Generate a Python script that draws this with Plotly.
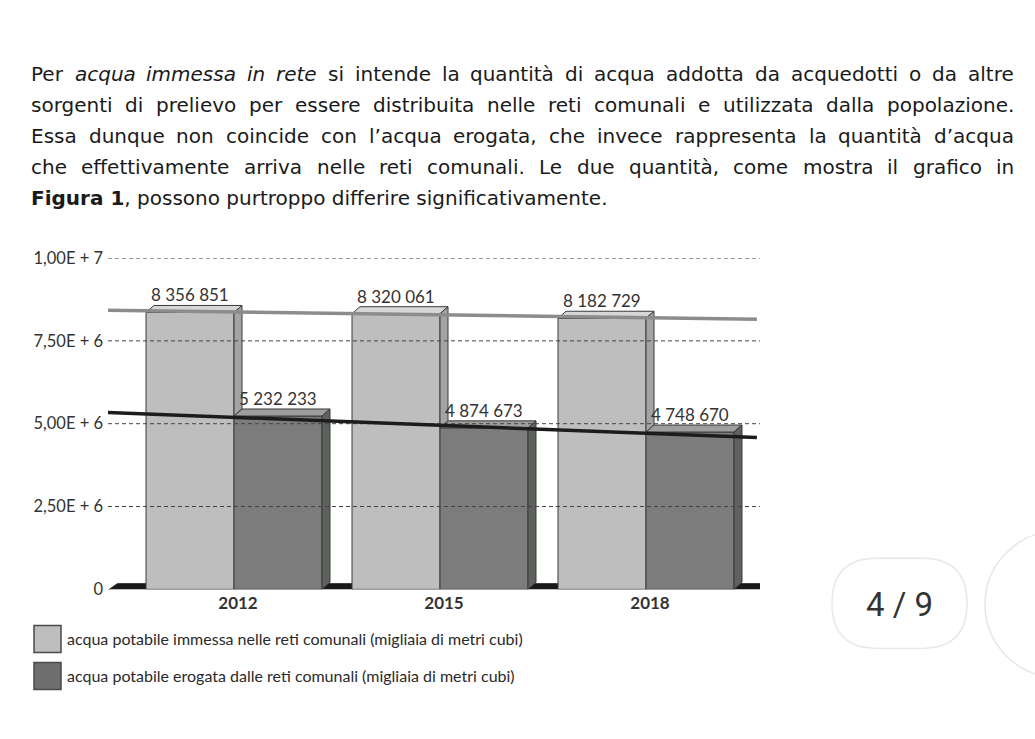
import re
import numpy as np
import plotly.graph_objects as go

# dati
anni = ["2012", "2015", "2018"]
immessa = [8356851, 8320061, 8182729]
erogata = [5232233, 4874673, 4748670]
tick_vals = [0, 2500000, 5000000, 7500000, 10000000]
tick_text = ["0", "2,50E + 6", "5,00E + 6", "7,50E + 6", "1,00E + 7"]

testo = [
    "Per <i>acqua immessa in rete</i> si intende la quantità di acqua addotta da acquedotti o da altre",
    "sorgenti di prelievo per essere distribuita nelle reti comunali e utilizzata dalla popolazione.",
    "Essa dunque non coincide con l’acqua erogata, che invece rappresenta la quantità d’acqua",
    "che effettivamente arriva nelle reti comunali. Le due quantità, come mostra il grafico in",
    "<b>Figura 1</b>, possono purtroppo differire significativamente.",
]
legenda = [
    "acqua potabile immessa nelle reti comunali (migliaia di metri cubi)",
    "acqua potabile erogata dalle reti comunali (migliaia di metri cubi)",
]

W, H = 1035, 739


def px(x):
    return x / W


def py(y):
    # correzione verticale misurata sullo screenshot
    return 1 - ((y - 10.2) / 0.972) / H


idx = np.arange(len(anni))
BW = 88 / 206          # larghezza barra (unità categoria)
DX = 8 / 206           # profondità 3D in x
DY = 7 * 1e7 / 331     # profondità 3D in y
XR = [(108 - 234) / 206, (760 - 234) / 206]

LIGHT, LIGHT_TOP, LIGHT_SIDE = "#bebebe", "#d6d6d6", "#a4a4a4"
DARK, DARK_TOP, DARK_SIDE = "#7c7c7c", "#9e9e9e", "#5d625d"
EDGE = "#3a3a3a"

fig = go.Figure()

# facce frontali
fig.add_trace(go.Bar(x=idx, y=immessa, offset=-BW, width=BW,
                     marker=dict(color=LIGHT, line=dict(color=EDGE, width=1))))
fig.add_trace(go.Bar(x=idx, y=erogata, offset=0, width=BW,
                     marker=dict(color=DARK, line=dict(color=EDGE, width=1))))


def facce(x_left, bottoms, tops):
    tx, ty, sx, sy = [], [], [], []
    for xl, b, v in zip(x_left, bottoms, tops):
        xr = xl + BW
        tx += [xl, xl + DX, xr + DX, xr, xl, None]
        ty += [v, v + DY, v + DY, v, v, None]
        sx += [xr, xr + DX, xr + DX, xr, xr, None]
        sy += [b, b + DY, v + DY, v, b, None]
    return tx, ty, sx, sy


def poly(xs, ys, color):
    return go.Scatter(x=xs, y=ys, mode="lines", fill="toself", fillcolor=color,
                      line=dict(color=EDGE, width=1), hoverinfo="skip")


tx, ty, sx, sy = facce(idx - BW, erogata, immessa)
fig.add_trace(poly(tx, ty, LIGHT_TOP))
fig.add_trace(poly(sx, sy, LIGHT_SIDE))
tx, ty, sx, sy = facce(idx, [0] * len(anni), erogata)
fig.add_trace(poly(tx, ty, DARK_TOP))
fig.add_trace(poly(sx, sy, DARK_SIDE))

# griglia tratteggiata sopra le barre
for v in tick_vals[1:]:
    fig.add_trace(go.Scatter(x=XR, y=[v, v], mode="lines", hoverinfo="skip",
                             line=dict(color="#444444", width=1, dash="4px,3px")))

# linee di tendenza
xt = np.array([XR[0], XR[1] - 0.015])
for serie, col in [(immessa, "#8c8c8c"), (erogata, "#1c1c1c")]:
    k, q = np.polyfit(idx, serie, 1)
    fig.add_trace(go.Scatter(x=xt, y=k * xt + q, mode="lines", hoverinfo="skip",
                             line=dict(color=col, width=3.5)))

# etichette valori
for serie, off in [(immessa, -BW / 2), (erogata, BW / 2)]:
    for i, v in zip(idx, serie):
        fig.add_annotation(x=i + off, y=v + DY, text=f"{v:,}".replace(",", " "),
                           showarrow=False, yanchor="bottom", yshift=-2,
                           font=dict(family="Lato", size=17, color="#333333"))

# pavimento
fig.add_shape(type="path", xref="x", yref="y", layer="below",
              path=f"M {XR[0]},{-0.03e6} L {XR[1] + 0.03},{-0.03e6} "
                   f"L {XR[1] + 0.075},{DY * 0.8} L {XR[0] + 0.045},{DY * 0.8} Z",
              fillcolor="#1a1a1a", line=dict(color="#1a1a1a", width=1))

# testo introduttivo, giustificato parola per parola (larghezze DejaVu Sans / 2048)
ADV = {" ": 651, ",": 651, ".": 651, "’": 651, "P": 1235, "E": 1294, "L": 1141,
       "a": 1255, "à": 1255, "b": 1300, "c": 1126, "d": 1300, "e": 1260, "f": 721,
       "g": 1300, "h": 1298, "i": 569, "l": 569, "m": 1995, "n": 1298, "o": 1253,
       "p": 1300, "q": 1300, "r": 842, "s": 1067, "t": 803, "u": 1298, "v": 1212,
       "z": 1075}
FS = 20
LEFT, RIGHT = 30, 1013


def larghezza(parola):
    return sum(ADV.get(c, 1200) for c in parola) * FS / 2048


for k, riga in enumerate(testo):
    yc = py(74 + 31 * k)
    if k == len(testo) - 1:
        fig.add_annotation(xref="paper", yref="paper", x=px(LEFT - 1), y=yc,
                           xanchor="left", yanchor="middle", showarrow=False, text=riga,
                           font=dict(family="DejaVu Sans", size=FS, color="#1a1a1a"))
        continue
    parole, corsivo = [], False
    for tok in riga.split(" "):
        if tok.startswith("<i>"):
            corsivo = True
        pulita = re.sub(r"</?i>", "", tok)
        parole.append((pulita, corsivo))
        if tok.endswith("</i>"):
            corsivo = False
    ws = [larghezza(p) for p, _ in parole]
    gap = (RIGHT - LEFT - sum(ws)) / (len(parole) - 1)
    x = LEFT
    for (p, c), w in zip(parole, ws):
        fig.add_annotation(xref="paper", yref="paper", x=px(x - 1), y=yc,
                           xanchor="left", yanchor="middle", showarrow=False,
                           text=f"<i>{p}</i>" if c else p,
                           font=dict(family="DejaVu Sans", size=FS, color="#1a1a1a"))
        x += w + gap

# legenda manuale
for k, (lab, col) in enumerate(zip(legenda, [LIGHT, "#6e6e6e"])):
    y0 = 625 + 37 * k
    fig.add_shape(type="rect", xref="paper", yref="paper",
                  x0=px(34), x1=px(61), y0=py(y0), y1=py(y0 + 27),
                  fillcolor=col, line=dict(color="#4a4a4a", width=1.5))
    fig.add_annotation(xref="paper", yref="paper", x=px(65), y=py(y0 + 13),
                       xanchor="left", yanchor="middle", showarrow=False, text=lab,
                       font=dict(family="Lato", size=16, color="#2a2a2a"))

# indicatore pagina
fig.add_shape(type="path", xref="paper", yref="paper", layer="above",
              path=(f"M {px(877)},{py(558)} L {px(922)},{py(558)} "
                    f"Q {px(967)},{py(558)} {px(967)},{py(603)} "
                    f"Q {px(967)},{py(648)} {px(922)},{py(648)} "
                    f"L {px(877)},{py(648)} "
                    f"Q {px(832)},{py(648)} {px(832)},{py(603)} "
                    f"Q {px(832)},{py(558)} {px(877)},{py(558)} Z"),
              fillcolor="white", line=dict(color="#e8e8e8", width=1.5))
fig.add_annotation(xref="paper", yref="paper", x=px(899), y=py(604), showarrow=False,
                   xanchor="center", yanchor="middle",
                   text="4 / 9", font=dict(family="Roboto", size=33, color="#333333"))
fig.add_shape(type="circle", xref="paper", yref="paper",
              x0=px(985), x1=px(1131), y0=py(531), y1=py(677),
              fillcolor="white", line=dict(color="#e6e6e6", width=1.5))

fig.update_layout(
    width=W, height=H,
    margin=dict(l=0, r=0, t=0, b=0),
    paper_bgcolor="white", plot_bgcolor="white",
    showlegend=False,
    xaxis=dict(domain=[px(108), px(760)], range=XR, tickvals=idx + DX / 2, ticktext=anni,
               showgrid=False, zeroline=False, showline=False, ticks="",
               ticklabelstandoff=2,
               tickfont=dict(family="Lato", size=17, color="#333333", weight="bold")),
    yaxis=dict(domain=[py(589), py(258)], range=[0, 1e7], tickvals=tick_vals,
               ticktext=tick_text, showgrid=False, zeroline=False, showline=False,
               ticks="", ticklabelstandoff=4,
               tickfont=dict(family="Lato", size=16.5, color="#333333")),
)

# niente margine del body: il grafico occupa esattamente la finestra
fig.write_html("out.html", config={"displayModeBar": False},
               post_script="document.body.style.margin='0';document.body.style.overflow='hidden';")
